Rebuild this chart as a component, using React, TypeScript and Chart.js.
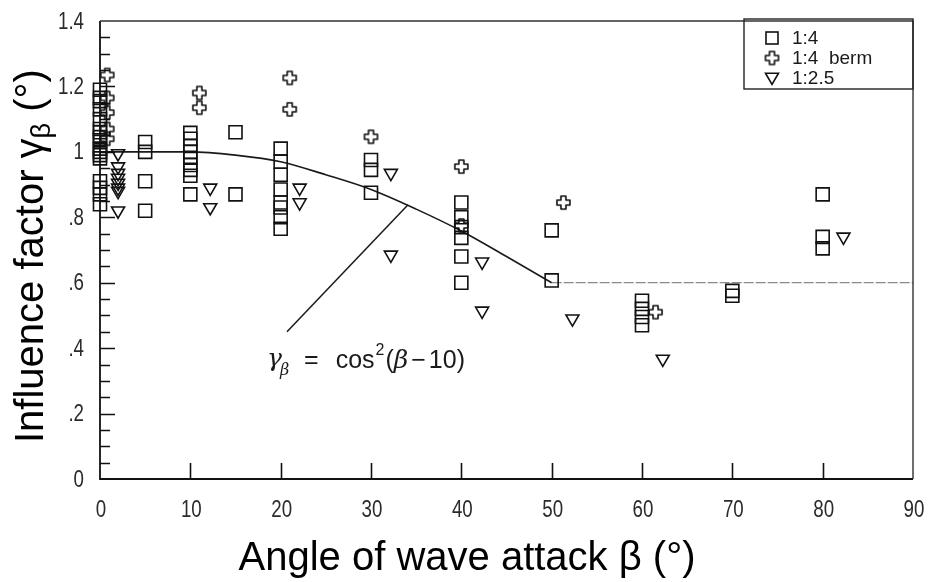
import React, { useEffect, useRef } from "react";
import { Chart, registerables } from "chart.js";

Chart.register(...registerables);

// ---------- data ----------
const xTickValues = [0, 10, 20, 30, 40, 50, 60, 70, 80, 90];
const xTickLabels = ["0", "10", "20", "30", "40", "50", "60", "70", "80", "90"];
const yTickValues = [0, 0.2, 0.4, 0.6, 0.8, 1, 1.2, 1.4];
const yTickLabels = ["0", ".2", ".4", ".6", ".8", "1", "1.2", "1.4"];
const yMinorStep = 0.05;

// slope 1:4 (squares)
const slope14: [number, number][] = [
  [0, 1.19], [0, 1.165], [0, 1.155], [0, 1.13], [0, 1.1], [0, 1.07], [0, 1.06], [0, 1.045], [0, 1.035],
  [0, 1.01], [0, 1.0], [0, 0.99], [0, 0.98], [0, 0.91], [0, 0.89], [0, 0.87], [0, 0.84],
  [5, 1.03], [5, 1.0], [5, 0.91], [5, 0.82],
  [10, 1.058], [10, 1.04], [10, 1.018], [10, 1.0], [10, 0.982], [10, 0.96], [10, 0.945], [10, 0.927], [10, 0.87],
  [15, 1.06], [15, 0.87],
  [20, 1.01], [20, 0.97], [20, 0.93], [20, 0.885], [20, 0.845], [20, 0.83], [20, 0.8], [20, 0.765],
  [30, 0.975], [30, 0.945], [30, 0.875],
  [40, 0.845], [40, 0.8], [40, 0.77], [40, 0.737], [40, 0.68], [40, 0.6],
  [50, 0.76], [50, 0.607],
  [60, 0.545], [60, 0.52], [60, 0.495], [60, 0.47],
  [70, 0.575], [70, 0.56],
  [80, 0.87], [80, 0.74], [80, 0.705],
];

// slope 1:4 berm (crosses)
const slope14Berm: [number, number][] = [
  [0.8, 1.235], [0.8, 1.165], [0.8, 1.12], [0.8, 1.07], [0.8, 1.04],
  [11, 1.18], [11, 1.135],
  [21, 1.226], [21, 1.13],
  [30, 1.046],
  [40, 0.955], [40, 0.775],
  [51.3, 0.845],
  [61.5, 0.51],
];

// slope 1:2.5 (down triangles)
const slope25: [number, number][] = [
  [2, 0.995], [2, 0.955], [2, 0.935], [2, 0.92], [2, 0.905], [2, 0.89], [2, 0.88], [2, 0.82],
  [12.2, 0.89], [12.2, 0.83],
  [22.1, 0.89], [22.1, 0.845],
  [32.2, 0.935], [32.2, 0.685],
  [42.3, 0.664], [42.3, 0.514],
  [52.3, 0.49],
  [62.3, 0.367],
  [82.3, 0.74],
];

// design curve gamma = cos^2(beta-10)
const curveAngles = [0, 10, 15, 20, 25, 30, 35, 40, 45, 50];
const curveFactors = [1, 1, 0.99, 0.97, 0.93, 0.885, 0.825, 0.758, 0.68, 0.6];
const plateauAngles = [50, 90];
const plateauFactors = [0.6, 0.6];
// pointer from formula label to curve
const pointerAngles = [20.7, 34.1];
const pointerFactors = [0.45, 0.838];
const formulaAnchor = { x: 18.5, y: 0.34 };

const legendLabels = ["1:4", "1:4  berm", "1:2.5"];
const xTitle = "Angle of wave attack \u03B2 (\u00B0)";
const yTitleMain = "Influence factor \u03B3";
const yTitleSub = "\u03B2";
const yTitleEnd = " (\u00B0)";

const INK = "#111";
const SANS = "'Liberation Sans', Arial, sans-serif";

function makeCross(): HTMLCanvasElement {
  const size = 13, arm = 5, o = 2;
  const c = document.createElement("canvas");
  c.width = size + 2 * o;
  c.height = size + 2 * o;
  const g = c.getContext("2d")!;
  const a = (size - arm) / 2;
  const pts = [
    [a, 0], [a + arm, 0], [a + arm, a], [size, a], [size, a + arm], [a + arm, a + arm],
    [a + arm, size], [a, size], [a, a + arm], [0, a + arm], [0, a], [a, a],
  ];
  g.beginPath();
  pts.forEach(([px, py], i) => (i ? g.lineTo(px + o, py + o) : g.moveTo(px + o, py + o)));
  g.closePath();
  g.lineJoin = "round";
  g.lineWidth = 1.6;
  g.strokeStyle = INK;
  g.stroke();
  return c;
}

function drawTriangleDown(ctx: CanvasRenderingContext2D, cx: number, cy: number, r: number) {
  const w = r * Math.sin(Math.PI / 3);
  ctx.beginPath();
  ctx.moveTo(cx - w, cy - r / 2);
  ctx.lineTo(cx + w, cy - r / 2);
  ctx.lineTo(cx, cy + r);
  ctx.closePath();
  ctx.stroke();
}

// condensed tick text (the original uses a narrow typeface)
function narrowText(ctx: CanvasRenderingContext2D, t: string, x: number, y: number, align: "left" | "center" | "right", k = 0.78) {
  ctx.save();
  ctx.translate(x, y);
  ctx.scale(k, 1);
  ctx.textAlign = align;
  ctx.fillText(t, 0, 0);
  ctx.restore();
}

export default function App() {
  const ref = useRef<HTMLCanvasElement | null>(null);

  useEffect(() => {
    if (!ref.current) return;
    const cross = makeCross();

    const decor = {
      id: "decor",
      beforeDraw(chart: any) {
        const { ctx, width, height } = chart;
        ctx.save();
        ctx.fillStyle = "#fff";
        ctx.fillRect(0, 0, width, height);
        ctx.restore();
      },
      afterDraw(chart: any) {
        const { ctx, chartArea: a } = chart;
        const xs = chart.scales.x;
        const ys = chart.scales.y;
        ctx.save();
        // frame
        ctx.strokeStyle = INK;
        ctx.lineWidth = 1.8;
        ctx.beginPath();
        ctx.moveTo(a.left, a.top);
        ctx.lineTo(a.left, a.bottom);
        ctx.lineTo(a.right, a.bottom);
        ctx.stroke();
        ctx.strokeStyle = "#333";
        ctx.lineWidth = 1.4;
        ctx.beginPath();
        ctx.moveTo(a.left, a.top);
        ctx.lineTo(a.right, a.top);
        ctx.lineTo(a.right, a.bottom);
        ctx.stroke();

        // inward ticks
        ctx.strokeStyle = INK;
        ctx.lineWidth = 1.6;
        ctx.beginPath();
        xTickValues.forEach((v) => {
          if (v <= xs.min || v >= xs.max) return;
          const px = Math.round(xs.getPixelForValue(v)) + 0.5;
          ctx.moveTo(px, a.bottom);
          ctx.lineTo(px, a.bottom - 16);
        });
        const nMinor = Math.round((ys.max - ys.min) / yMinorStep);
        for (let i = 1; i < nMinor; i++) {
          const v = ys.min + i * yMinorStep;
          const major = Math.abs(v / 0.2 - Math.round(v / 0.2)) < 1e-6;
          const py = Math.round(ys.getPixelForValue(v)) + 0.5;
          ctx.moveTo(a.left, py);
          ctx.lineTo(a.left + (major ? 15 : 10), py);
        }
        ctx.stroke();

        // tick labels
        ctx.fillStyle = "#2b2b2b";
        ctx.font = "24px " + SANS;
        ctx.textBaseline = "middle";
        xTickValues.forEach((v, i) => {
          narrowText(ctx, xTickLabels[i], xs.getPixelForValue(v) + 1, a.bottom + 31, "center");
        });
        yTickValues.forEach((v, i) => {
          narrowText(ctx, yTickLabels[i], a.left - 16, ys.getPixelForValue(v) + 1, "right");
        });

        // legend box
        const bw = 169, bh = 70;
        const bx = a.right - bw, by = a.top - 2;
        ctx.lineWidth = 1.4;
        ctx.strokeStyle = "#222";
        ctx.strokeRect(bx, by, bw, bh);
        ctx.font = "19px " + SANS;
        ctx.fillStyle = "#1a1a1a";
        ctx.textBaseline = "middle";
        ctx.textAlign = "left";
        const rows = [by + 19, by + 39, by + 59];
        const sx = bx + 28;
        ctx.strokeStyle = INK;
        ctx.lineWidth = 1.6;
        ctx.strokeRect(sx - 6, rows[0] - 6, 12, 12);
        ctx.drawImage(cross, sx - cross.width / 2, rows[1] - cross.height / 2);
        drawTriangleDown(ctx, sx, rows[2] - 1, 7.5);
        legendLabels.forEach((t, i) => ctx.fillText(t, bx + 48, rows[i] + 1));

        // formula label
        let fx = xs.getPixelForValue(formulaAnchor.x);
        const fy = ys.getPixelForValue(formulaAnchor.y);
        ctx.fillStyle = "#1a1a1a";
        ctx.textBaseline = "alphabetic";
        ctx.font = "italic 25px 'DejaVu Serif', serif";
        ctx.fillText("\u03B3", fx, fy - 2);
        fx += ctx.measureText("\u03B3").width;
        ctx.font = "italic 16px 'DejaVu Serif', serif";
        ctx.fillText("\u03B2", fx - 2, fy + 7);
        fx += 22;
        ctx.font = "25px " + SANS;
        ctx.fillText("=", fx, fy);
        fx += ctx.measureText("=").width + 17;
        ctx.fillText("cos", fx, fy);
        fx += ctx.measureText("cos").width + 1;
        ctx.font = "16px " + SANS;
        ctx.fillText("2", fx, fy - 13);
        fx += ctx.measureText("2").width + 1;
        ctx.font = "25px " + SANS;
        ctx.fillText("(", fx, fy);
        fx += ctx.measureText("(").width;
        ctx.font = "italic 25px 'DejaVu Serif', serif";
        ctx.fillText("\u03B2", fx, fy);
        fx += ctx.measureText("\u03B2").width + 3;
        ctx.font = "25px " + SANS;
        ctx.fillText("\u2212", fx, fy);
        fx += ctx.measureText("\u2212").width + 3;
        ctx.fillText("10)", fx, fy);

        // axis titles
        ctx.fillStyle = "#000";
        ctx.font = "40px " + SANS;
        ctx.textAlign = "center";
        ctx.fillText(xTitle, a.left + 367, 570);

        ctx.save();
        ctx.translate(43, 443);
        ctx.rotate(-Math.PI / 2);
        ctx.textAlign = "left";
        ctx.font = "40px " + SANS;
        ctx.fillText(yTitleMain, 0, 0);
        let tx = ctx.measureText(yTitleMain).width;
        ctx.font = "27px " + SANS;
        ctx.fillText(yTitleSub, tx, 7);
        tx += ctx.measureText(yTitleSub).width;
        ctx.font = "40px " + SANS;
        ctx.fillText(yTitleEnd, tx, 0);
        ctx.restore();

        ctx.restore();
      },
    };

    const toPts = (xs: number[], ys: number[]) => xs.map((x, i) => ({ x, y: ys[i] }));
    const pairs = (arr: [number, number][]) => arr.map(([x, y]) => ({ x, y }));
    const noPad = (s: any) => {
      s.paddingLeft = 0;
      s.paddingRight = 0;
      s.paddingTop = 0;
      s.paddingBottom = 0;
    };

    const chart = new Chart(ref.current, {
      type: "scatter",
      data: {
        datasets: [
          {
            label: legendLabels[0],
            data: pairs(slope14),
            pointStyle: "rect",
            pointRadius: 9.2,
            borderColor: INK,
            backgroundColor: "rgba(0,0,0,0)",
            borderWidth: 1.6,
            clip: false,
          } as any,
          {
            label: legendLabels[1],
            data: pairs(slope14Berm),
            pointStyle: cross as any,
            pointRadius: 7,
            borderColor: INK,
            backgroundColor: "rgba(0,0,0,0)",
            clip: false,
          } as any,
          {
            label: legendLabels[2],
            data: pairs(slope25),
            pointStyle: "triangle",
            rotation: 180,
            pointRadius: 7.5,
            borderColor: INK,
            backgroundColor: "rgba(0,0,0,0)",
            borderWidth: 1.6,
            clip: false,
          } as any,
          {
            label: "curve",
            data: toPts(curveAngles, curveFactors),
            showLine: true,
            pointRadius: 0,
            borderColor: "#1a1a1a",
            borderWidth: 1.6,
            cubicInterpolationMode: "monotone",
          } as any,
          {
            label: "plateau",
            data: toPts(plateauAngles, plateauFactors),
            showLine: true,
            pointRadius: 0,
            borderColor: "#8a8a8a",
            borderWidth: 1.3,
            borderDash: [10, 2],
          } as any,
          {
            label: "pointer",
            data: toPts(pointerAngles, pointerFactors),
            showLine: true,
            pointRadius: 0,
            borderColor: "#1a1a1a",
            borderWidth: 1.5,
          } as any,
        ],
      },
      options: {
        responsive: false,
        animation: false,
        events: [],
        devicePixelRatio: 1,
        layout: { padding: { top: 21, right: 17, left: 0, bottom: 0 } },
        plugins: {
          legend: { display: false },
          tooltip: { enabled: false },
          title: { display: false },
        },
        scales: {
          x: {
            type: "linear",
            min: 0,
            max: 90,
            afterFit: (s: any) => {
              s.height = 103;
              noPad(s);
            },
            afterBuildTicks: (s: any) => {
              s.ticks = xTickValues.map((v) => ({ value: v }));
            },
            grid: { display: false, drawTicks: false },
            border: { display: false },
            ticks: { display: false },
          },
          y: {
            type: "linear",
            min: 0,
            max: 1.4,
            afterFit: (s: any) => {
              s.width = 100;
              noPad(s);
            },
            afterBuildTicks: (s: any) => {
              s.ticks = yTickValues.map((v) => ({ value: v }));
            },
            grid: { display: false, drawTicks: false },
            border: { display: false },
            ticks: { display: false },
          },
        },
      } as any,
      plugins: [decor],
    });

    return () => chart.destroy();
  }, []);

  return (
    <div style={{ position: "fixed", left: 0, top: 0, width: 930, height: 582, background: "#fff" }}>
      <canvas ref={ref} width={930} height={582} style={{ display: "block", width: 930, height: 582 }} />
    </div>
  );
}
